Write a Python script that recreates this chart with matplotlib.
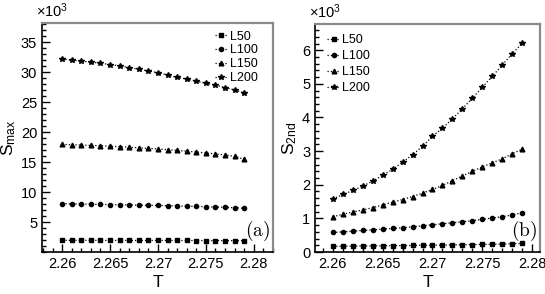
import numpy as np
import matplotlib
matplotlib.use("Agg")
import matplotlib.pyplot as plt
from matplotlib.ticker import MultipleLocator

plt.rcParams['font.family'] = ['Liberation Sans', 'DejaVu Sans']
plt.rcParams['mathtext.fontset'] = 'custom'
plt.rcParams['mathtext.rm'] = 'Liberation Sans'
plt.rcParams['mathtext.it'] = 'Liberation Sans'
plt.rcParams['mathtext.bf'] = 'Liberation Sans:bold'

# temperatures
T = [2.260, 2.261, 2.262, 2.263, 2.264, 2.265, 2.266, 2.267, 2.268, 2.269,
     2.270, 2.271, 2.272, 2.273, 2.274, 2.275, 2.276, 2.277, 2.278, 2.279]

labels = ['L50', 'L100', 'L150', 'L200']
markers = ['s', 'o', '^', '*']
msizes = [2.6, 3.0, 3.4, 4.3]

# (a) S_max, x10^3
smax_L50 = [1.95, 1.95, 1.95, 1.94, 1.94, 1.94, 1.94, 1.93, 1.93, 1.93,
            1.93, 1.92, 1.92, 1.92, 1.91, 1.91, 1.91, 1.90, 1.90, 1.89]
smax_L100 = [8.05, 8.02, 8.00, 7.97, 7.94, 7.91, 7.88, 7.85, 7.82, 7.79,
             7.76, 7.72, 7.68, 7.64, 7.60, 7.55, 7.50, 7.45, 7.38, 7.30]
smax_L150 = [17.95, 17.90, 17.84, 17.78, 17.72, 17.64, 17.56, 17.47, 17.38, 17.28,
             17.18, 17.06, 16.94, 16.81, 16.67, 16.52, 16.36, 16.18, 15.96, 15.45]
smax_L200 = [32.18, 32.00, 31.84, 31.67, 31.50, 31.27, 31.05, 30.76, 30.48, 30.20,
             29.92, 29.52, 29.12, 28.84, 28.50, 28.16, 27.82, 27.43, 27.03, 26.53]

# (b) S_2nd, x10^3
s2nd_L50 = [0.17, 0.17, 0.175, 0.18, 0.18, 0.185, 0.19, 0.19, 0.195, 0.20,
            0.20, 0.205, 0.21, 0.215, 0.22, 0.225, 0.23, 0.235, 0.245, 0.255]
s2nd_L100 = [0.58, 0.60, 0.62, 0.64, 0.66, 0.68, 0.70, 0.72, 0.75, 0.78,
             0.81, 0.84, 0.87, 0.90, 0.93, 0.97, 1.01, 1.05, 1.10, 1.17]
s2nd_L150 = [1.05, 1.12, 1.19, 1.25, 1.32, 1.40, 1.48, 1.56, 1.65, 1.75,
             1.86, 1.98, 2.12, 2.26, 2.40, 2.53, 2.65, 2.77, 2.92, 3.06]
s2nd_L200 = [1.58, 1.71, 1.83, 1.96, 2.11, 2.28, 2.46, 2.67, 2.89, 3.14,
             3.44, 3.68, 3.96, 4.26, 4.57, 4.90, 5.22, 5.56, 5.89, 6.21]

fig = plt.figure(figsize=(5.45, 2.94), dpi=100)
W, H = 545.0, 294.0
ax1 = fig.add_axes([42/W, 1-252/H, (273-42)/W, (252-23)/H])
ax2 = fig.add_axes([315/W, 1-252/H, (540-315)/W, (252-24)/H])


def style(ax, ymaj, ymin):
    ax.xaxis.set_major_locator(MultipleLocator(0.005))
    ax.xaxis.set_minor_locator(MultipleLocator(0.001))
    ax.yaxis.set_major_locator(MultipleLocator(ymaj))
    ax.yaxis.set_minor_locator(MultipleLocator(ymin))
    ax.tick_params(which='both', direction='in', top=False, right=False,
                   labelsize=10.5, width=1.0, color='black')
    ax.tick_params(which='major', length=6)
    ax.tick_params(which='minor', length=3)
    ax.xaxis.set_major_formatter(matplotlib.ticker.FuncFormatter(
        lambda v, p: ('%.3f' % v).rstrip('0').rstrip('.')))
    ax.spines['left'].set_linewidth(1.2)
    ax.spines['bottom'].set_linewidth(1.2)
    for s in ['top', 'right']:
        ax.spines[s].set_color('#8a8a8a')
        ax.spines[s].set_linewidth(1.6)
    ax.set_xlabel('T', fontsize=12.5, labelpad=3)


series_a = [smax_L50, smax_L100, smax_L150, smax_L200]
series_b = [s2nd_L50, s2nd_L100, s2nd_L150, s2nd_L200]

for ys, lab, m, ms in zip(series_a, labels, markers, msizes):
    ax1.plot(T, ys, linestyle=':', color='black', lw=0.9, marker=m,
             markersize=ms, label=lab)
for ys, lab, m, ms in zip(series_b, labels, markers, msizes):
    ax2.plot(T, ys, linestyle=':', color='black', lw=0.9, marker=m,
             markersize=ms, label=lab)

ax1.set_xlim(2.2579, 2.2820)
ax1.set_ylim(0, 38.2)
ax2.set_xlim(2.2582, 2.2808)
ax2.set_ylim(0, 6.78)
style(ax1, 5, 1)
style(ax2, 1, 0.2)
ax1.set_yticks([5, 10, 15, 20, 25, 30, 35])

ax1.set_ylabel('S$_{\\mathrm{max}}$', fontsize=12.5, labelpad=2)
ax2.set_ylabel('S$_{\\mathrm{2nd}}$', fontsize=12.5, labelpad=2)

for ax in (ax1, ax2):
    ax.text(-0.025, 1.012, '×10$^{3}$', transform=ax.transAxes,
            fontsize=10.5, ha='left', va='bottom')

ax1.legend(loc='upper right', frameon=False, fontsize=9, handlelength=1.0,
           handletextpad=0.2, labelspacing=0.15, borderaxespad=0.2,
           bbox_to_anchor=(0.965, 1.0))
ax2.legend(loc='upper left', frameon=False, fontsize=9, handlelength=1.0,
           handletextpad=0.2, labelspacing=0.32, borderaxespad=0.4,
           bbox_to_anchor=(0.01, 1.0))

ax1.text(0.985, 0.04, r'$(\mathrm{a})$', transform=ax1.transAxes,
         fontsize=14, ha='right', va='bottom', math_fontfamily='cm')
ax2.text(0.985, 0.04, r'$(\mathrm{b})$', transform=ax2.transAxes,
         fontsize=14, ha='right', va='bottom', math_fontfamily='cm')

fig.savefig('out.png', dpi=100)
